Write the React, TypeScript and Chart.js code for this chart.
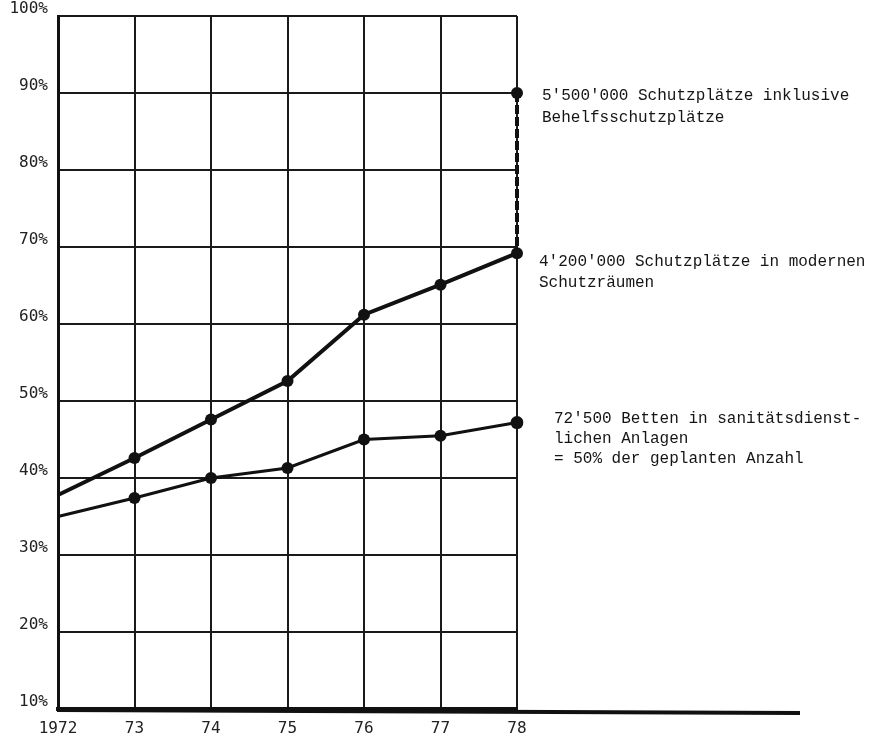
import React, { useEffect, useRef } from "react";
import { Chart, registerables } from "chart.js";

Chart.register(...registerables);

const years = ["1972", "73", "74", "75", "76", "77", "78"];
const schutzraeume = [37.8, 42.6, 47.6, 52.6, 61.2, 65.1, 69.2];
const betten = [35.0, 37.4, 40.0, 41.3, 45.0, 45.5, 47.2];
const inklBehelf = 90;
const yMin = 10;
const yMax = 100;
const yStep = 10;

const labelInkl = ["5'500'000 Schutzplätze inklusive", "Behelfsschutzplätze"];
const labelModern = ["4'200'000 Schutzplätze in modernen", "Schutzräumen"];
const labelBetten = [
  "72'500 Betten in sanitätsdienst-",
  "lichen Anlagen",
  "= 50% der geplanten Anzahl",
];

const W = 885;
const H = 740;

const annotationPlugin = {
  id: "annotations",
  afterDraw(chart: any) {
    const ctx = chart.ctx;
    const xs = chart.scales.x;
    const ys = chart.scales.y;
    const area = chart.chartArea;
    const last = years.length - 1;
    const xr = xs.getPixelForValue(last);

    // extended base line
    ctx.save();
    ctx.strokeStyle = "#111";
    ctx.lineWidth = 4;
    ctx.beginPath();
    ctx.moveTo(area.left - 1, area.bottom + 1);
    ctx.lineTo(800, area.bottom + 4);
    ctx.stroke();

    ctx.fillStyle = "#151515";
    ctx.font = "16px 'Liberation Mono', monospace";
    ctx.textBaseline = "middle";
    ctx.textAlign = "left";
    const drawBlock = (lines: string[], x: number, y: number, lh: number) => {
      lines.forEach((t, i) => ctx.fillText(t, x, y + i * lh));
    };
    drawBlock(labelInkl, xr + 25, ys.getPixelForValue(inklBehelf) + 3, 22);
    drawBlock(labelModern, xr + 22, ys.getPixelForValue(schutzraeume[last]) + 9, 21);
    drawBlock(labelBetten, xr + 37, ys.getPixelForValue(betten[last]) - 4, 20);
    ctx.restore();
  },
};

export default function App() {
  const ref = useRef<HTMLCanvasElement | null>(null);

  useEffect(() => {
    if (!ref.current) return;
    const last = years.length - 1;
    const chart = new Chart(ref.current, {
      type: "line",
      data: {
        labels: years,
        datasets: [
          {
            label: "Schutzplätze in modernen Schutzräumen",
            data: schutzraeume,
            borderColor: "#111",
            backgroundColor: "#111",
            borderWidth: 4,
            pointRadius: [0, 6, 6, 6, 6, 6, 6],
            pointBackgroundColor: "#111",
            pointBorderWidth: 0,
            tension: 0,
          },
          {
            label: "Betten in sanitätsdienstlichen Anlagen",
            data: betten,
            borderColor: "#111",
            backgroundColor: "#111",
            borderWidth: 3,
            pointRadius: [0, 6, 6, 6, 6, 6, 6.5],
            pointBackgroundColor: "#111",
            pointBorderWidth: 0,
            tension: 0,
          },
          {
            label: "Schutzplätze inklusive Behelfsschutzplätze",
            data: [
              { x: years[last], y: inklBehelf },
              { x: years[last], y: schutzraeume[last] },
            ] as any,
            borderColor: "#111",
            backgroundColor: "#111",
            borderWidth: 4,
            borderDash: [9, 3],
            pointRadius: [6, 0],
            pointBackgroundColor: "#111",
            pointBorderWidth: 0,
          },
        ],
      },
      options: {
        responsive: false,
        animation: false,
        devicePixelRatio: 1,
        layout: { padding: { left: 0, right: W - 517, top: 16, bottom: 0 } },
        plugins: {
          legend: { display: false },
          tooltip: { enabled: false },
          title: { display: false },
        },
        scales: {
          x: {
            type: "category",
            offset: false,
            grid: { color: "#1a1a1a", lineWidth: 2, drawTicks: false },
            border: { display: true, color: "#111", width: 4 },
            ticks: {
              color: "#222",
              font: { family: "'DejaVu Sans Mono', monospace", size: 16 },
              padding: 10,
              maxRotation: 0,
              autoSkip: false,
            },
            afterFit(scale: any) {
              scale.height = H - 709;
              scale.paddingLeft = 0;
              scale.paddingRight = 0;
            },
          },
          y: {
            type: "linear",
            min: yMin,
            max: yMax,
            grid: { color: "#1a1a1a", lineWidth: 2, drawTicks: false },
            border: { display: true, color: "#111", width: 3 },
            ticks: {
              stepSize: yStep,
              color: "#222",
              font: { family: "'DejaVu Sans Mono', monospace", size: 16 },
              padding: 10,
              labelOffset: -7,
              callback: (v: any) => `${v}%`,
            },
            afterFit(scale: any) {
              scale.width = 58;
              scale.paddingTop = 0;
              scale.paddingBottom = 0;
            },
          },
        },
      },
      plugins: [annotationPlugin],
    });
    return () => chart.destroy();
  }, []);

  return (
    <div style={{ position: "fixed", left: 0, top: 0, width: W, height: H, background: "#fff" }}>
      <canvas ref={ref} width={W} height={H} style={{ width: W, height: H, display: "block" }} />
    </div>
  );
}
